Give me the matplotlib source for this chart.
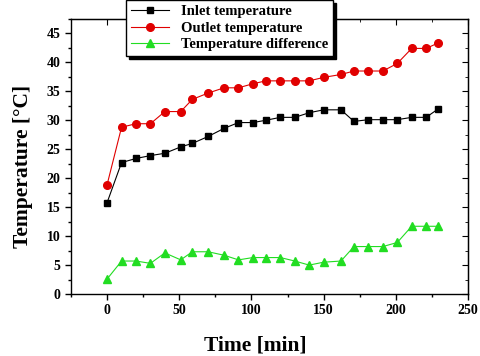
import matplotlib
matplotlib.use("Agg")
import matplotlib.pyplot as plt
from matplotlib.ticker import MultipleLocator

time = [0, 10, 20, 30, 40, 51, 59, 70, 81, 91, 101, 110, 120, 130, 140, 150,
        162, 171, 181, 191, 201, 211, 221, 229]
inlet = [15.8, 22.7, 23.4, 23.9, 24.3, 25.4, 26.0, 27.2, 28.6, 29.6, 29.6, 30.0,
         30.5, 30.5, 31.3, 31.8, 31.8, 29.8, 30.1, 30.1, 30.1, 30.5, 30.5, 31.9]
outlet = [18.9, 28.8, 29.4, 29.4, 31.5, 31.5, 33.6, 34.7, 35.6, 35.6, 36.3, 36.8,
          36.8, 36.8, 36.8, 37.4, 37.9, 38.5, 38.5, 38.5, 39.8, 42.4, 42.4, 43.3]
diff = [2.6, 5.7, 5.7, 5.3, 7.1, 5.9, 7.3, 7.3, 6.7, 5.9, 6.3, 6.3, 6.3, 5.7,
        5.0, 5.5, 5.7, 8.2, 8.2, 8.2, 8.9, 11.7, 11.7, 11.7]
labels = ["Inlet temperature", "Outlet temperature", "Temperature difference"]

plt.rcParams['font.family'] = ['Liberation Serif', 'DejaVu Serif']
plt.rcParams['font.weight'] = 'bold'

fig = plt.figure(figsize=(4.8, 3.56), dpi=100)
ax = fig.add_axes([0.148, 0.174, 0.827, 0.773])

ax.plot(time, inlet, color='black', marker='s', ms=5, lw=0.8, label=labels[0])
ax.plot(time, outlet, color='#e00000', marker='o', ms=5.5, lw=0.8,
        markeredgecolor='#e00000', label=labels[1])
ax.plot(time, diff, color='#22dd22', marker='^', ms=6, lw=0.8, label=labels[2])

ax.set_xlim(-25, 250)
ax.set_ylim(0, 47.5)
ax.xaxis.set_major_locator(MultipleLocator(50))
ax.xaxis.set_minor_locator(MultipleLocator(25))
ax.yaxis.set_major_locator(MultipleLocator(5))
ax.yaxis.set_minor_locator(MultipleLocator(2.5))
ax.tick_params(which='both', direction='out', labelsize=10, width=1)
ax.tick_params(which='major', length=4)
ax.tick_params(which='minor', length=2.5)
for lab in ax.get_xticklabels() + ax.get_yticklabels():
    lab.set_fontweight('bold')

secx = ax.secondary_xaxis('top')
secx.xaxis.set_major_locator(MultipleLocator(50))
secx.xaxis.set_minor_locator(MultipleLocator(25))
secx.tick_params(which='both', direction='in', labeltop=False)
secx.tick_params(which='major', length=4)
secx.tick_params(which='minor', length=2.5)
secy = ax.secondary_yaxis('right')
secy.yaxis.set_major_locator(MultipleLocator(5))
secy.yaxis.set_minor_locator(MultipleLocator(2.5))
secy.tick_params(which='both', direction='in', labelright=False)
secy.tick_params(which='major', length=4)
secy.tick_params(which='minor', length=2.5)

for s in ax.spines.values():
    s.set_linewidth(1)

ax.set_xlabel("Time [min]", fontsize=15.5, fontweight='bold')
ax.xaxis.set_label_coords(0.463, -0.15)
ax.set_ylabel("Temperature [°C]", fontsize=15.5, fontweight='bold')
ax.yaxis.set_label_coords(-0.096, 0.465)

leg = ax.legend(loc='upper left', bbox_to_anchor=(0.12, 1.095), frameon=True,
                fancybox=False, shadow={'color': 'black', 'alpha': 1.0},
                edgecolor='black', handlelength=2.6, borderpad=0.35,
                labelspacing=0.22,
                prop={'weight': 'bold', 'size': 10.5})
leg.get_frame().set_linewidth(1)
leg.set_zorder(10)

fig.savefig("out.png", dpi=100)
